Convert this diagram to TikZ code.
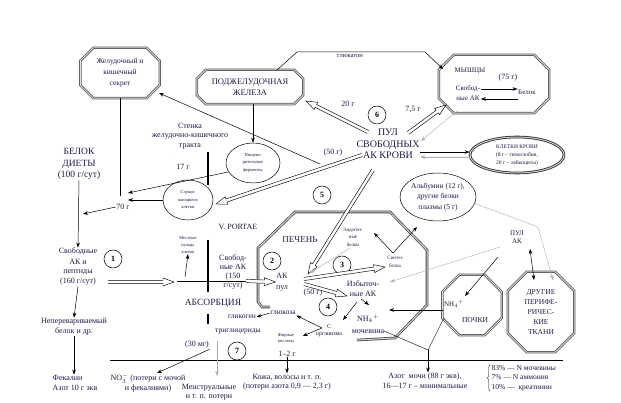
\documentclass[tikz,border=0pt]{standalone}
\usepackage{fontspec}
\setmainfont{Liberation Serif}
\usetikzlibrary{arrows.meta,shapes.geometric,calc,decorations.pathreplacing}

\definecolor{ink}{RGB}{28,26,72}
\newcommand\fsz[2]{\fontsize{#1}{#2}\selectfont}
% open double-lined arrow between two points
\newcommand\hollowarrow[2]{%
  \draw[hollow] let \p1=($(#2)-(#1)$), \n1={atan2(\y1,\x1)}, \n2={veclen(\x1,\y1)} in
    [shift={(#1)}, rotate=\n1]
    (0pt,1.6pt) -- (\n2-11pt,1.6pt) -- (\n2-11pt,4pt) -- (\n2*1pt,0pt)
    -- (\n2-11pt,-4pt) -- (\n2-11pt,-1.6pt) -- (0pt,-1.6pt);}
% octagon round a box node
\newcommand\octo[2]{%
  \draw[organ] ([xshift=#2]#1.north west) -- ([xshift=-#2]#1.north east)
    -- ([yshift=-#2]#1.north east) -- ([yshift=#2]#1.south east)
    -- ([xshift=-#2]#1.south east) -- ([xshift=#2]#1.south west)
    -- ([yshift=#2]#1.south west) -- ([yshift=-#2]#1.north west) -- cycle;}

\tikzset{
  arr/.style={-{Stealth[length=5pt,width=3.6pt]}, line width=0.5pt},
  garr/.style={arr, draw=gray!65, line width=0.4pt},
  hollow/.style={draw=black, fill=white, line width=0.45pt},
  orgbox/.style={rectangle, inner sep=0pt, align=center, text=ink},
  organ/.style={draw=gray!65!black, double=gray!25, double distance=0.9pt, line width=0.75pt, line join=miter},
  liver/.style={draw=gray!55!black, double=gray!30, double distance=1pt, line width=0.8pt},
  lbl/.style={align=center, inner sep=0.5pt, text=ink, font=\fsz{8}{10}},
  num/.style={circle, draw, line width=0.5pt, minimum size=18pt, inner sep=0pt,
    font=\bfseries\fsz{8}{8}},
  oval/.style={ellipse, draw, fill=white, line width=0.5pt, inner sep=0pt, align=center, text=ink},
}

\begin{document}
\begin{tikzpicture}[x=1pt, y=-1pt]
\useasboundingbox (0,0) rectangle (621,403);

% walls and base line
\draw[double, double distance=1.6pt, line width=0.5pt] (168,157) -- (168,360);
\draw[line width=1.3pt] (208,152) -- (208,185) (208,240) -- (208,292) (208,314) -- (208,324);
\draw[line width=0.6pt] (110,360) -- (563,360);

% liver
\draw[liver] (357,340) -- (395,338) -- (427,305) -- (427,250) -- (390,212) -- (295,212)
  -- (258,248) -- (258,302) -- (262,307) -- (270,307);

% organs
\node[orgbox, minimum width=79pt, minimum height=50pt, font=\fsz{7.5}{11}] (sekret) at (120,73) {Желудочный и\\кишечный\\секрет};
\node[orgbox, minimum width=106pt, minimum height=34pt, font=\fsz{8.5}{11}] (pankr) at (250,87) {ПОДЖЕЛУДОЧНАЯ\\ЖЕЛЕЗА};
\node[orgbox, minimum width=110pt, minimum height=58pt] (myshcy) at (494,84) {};
\node[orgbox, minimum width=59pt, minimum height=60pt] (pochki) at (472,305) {};
\node[orgbox, minimum width=66pt, minimum height=80pt, font=\fsz{7.5}{9.8}] (drugie) at (541,312) {ДРУГИЕ\\ПЕРИФЕ-\\РИЧЕС-\\КИЕ\\ТКАНИ};
\octo{sekret}{13pt}
\octo{pankr}{9pt}
\octo{myshcy}{15pt}
\octo{pochki}{17pt}
\octo{drugie}{19pt}

% ovals
\node[oval, minimum width=54pt, minimum height=40pt, font=\fsz{4.5}{7.5}] (fermenty) at (253,163) {Пищева-\\рительные\\ферменты};
\node[oval, minimum width=50pt, minimum height=40pt, font=\fsz{4.5}{7.5}] (slush) at (188,200) {Слущи-\\вающиеся\\клетки};
\node[oval, minimum width=72pt, minimum height=48pt, font=\fsz{7.5}{10.5}] (albumin) at (438,197) {Альбумин (12 г),\\другие белки\\плазмы (5 г)};
\node[oval, minimum width=94pt, minimum height=36pt, draw=black!85, double=gray!35, double distance=1pt, line width=0.8pt, font=\fsz{5.5}{8}] (kletki) at (517,155) {КЛЕТКИ КРОВИ\\(8 г – гемоглобин,\\20 г – лейкоциты)};

% muscles inside
\node[lbl, font=\fsz{7}{8}] (mtitle) at (470,71) {МЫШЦЫ};
\node[lbl] (m75) at (508,78) {(75 г)};
\node[lbl, font=\fsz{7}{10}] (msvob) at (468,93) {Свобод-\\ные АК};
\node[lbl, font=\fsz{7}{9}] (mbelok) at (527,92) {Белок};

% labels
\node[lbl, font=\fsz{10}{11.5}] (pul) at (388,144) {ПУЛ\\СВОБОДНЫХ\\АК КРОВИ};
\node[lbl, font=\fsz{9.5}{11.5}] (belok) at (79,164) {БЕЛОК\\ДИЕТЫ\\(100 г/сут)};
\node[lbl] (svak) at (78,267) {Свободные\\АК и\\пептиды\\(160 г/сут)};
\node[lbl] (neper) at (74,327) {Неперевариваемый\\белок и др.};
\node[lbl, align=left, anchor=west] (fekal) at (52,383) {Фекалии\\Азот 10 г экв};
\node[lbl] (no3) at (148,383) {NO$_3^-$ (потери с мочой\\и фекалиями)};
\node[lbl, font=\fsz{8}{9}] (menstr) at (209,392) {Менструальные\\и т. п. потери};
\node[lbl, font=\fsz{8}{9}] (kozha) at (287,382) {Кожа, волосы и т. п.\\(потери азота 0,9 — 2,3 г)};
\node[lbl] (azot) at (425,381) {Азот \ мочи (88 г экв),\\16—17 г – минимальные};
\node[lbl, align=left, anchor=west, font=\fsz{7.5}{9.5}] (pct) at (491,378) {83\% — N мочевины\\7\% — N аммония\\10\% — \ креатинин};
\draw[decorate, decoration={brace, amplitude=2.5pt}] ([xshift=-1pt]pct.south west) -- ([xshift=-1pt]pct.north west);

\node[lbl, font=\fsz{6.5}{7}] (glukagon) at (350,56) {глюкагон};
\node[lbl, font=\fsz{8}{9.5}] (stenka) at (190,136) {Стенка\\желудочно-кишечного\\тракта};
\node[lbl] (w17) at (183,167) {17 г};
\node[lbl] (w70) at (123,207) {70 г};
\node[lbl] (m20) at (348,104) {20 г};
\node[lbl] (m75g) at (413,109) {7,5 г};
\node[lbl] (p50) at (333,153) {(50 г)};
\node[lbl] (portae) at (238,227) {V. PORTAE};
\node[lbl, font=\fsz{4.5}{7}] (mestn) at (188,245) {Местные\\нужды\\клеток};
\node[lbl, font=\fsz{9.5}{11}] (absorb) at (213,303) {АБСОРБЦИЯ};
\node[lbl, font=\fsz{8}{9.3}] (svak2) at (233,272) {Свобод-\\ные АК\\(150\\г/сут)};
\node[lbl, font=\fsz{9}{10}] (pechen) at (300,240) {ПЕЧЕНЬ};
\node[lbl, font=\fsz{8}{10.5}] (akpul) at (282,282) {АК\\пул};
\node[lbl, font=\fsz{5}{7.5}] (endo) at (353,237) {Эндоген-\\ные\\белки};
\node[lbl, font=\fsz{5}{8}] (sintez) at (395,262) {Синтез\\белка};
\node[lbl] (izb) at (363,289) {Избыточ-\\ные АК};
\node[lbl] (l50) at (313,293) {(50 г)};
\node[lbl, font=\fsz{8}{12}] (nh4) at (368,324) {NH$_4{}^+$\\мочевина};
\node[lbl, font=\fsz{7.5}{9}] (glukoza) at (283,313) {глюкоза};
\node[lbl, font=\fsz{7.5}{9}] (glikogen) at (242,317) {гликоген};
\node[lbl, font=\fsz{6}{7}] (corg) at (329,331) {С\\организма};
\node[lbl, font=\fsz{4.5}{6}] (zhirn) at (286,338) {Жирные\\кислоты};
\node[lbl, font=\fsz{7.5}{9}] (trigl) at (238,332) {триглицериды};
\node[lbl] (m30) at (197,345) {(30 мг)};
\node[lbl] (m12) at (287,354) {1–2 г};
\node[lbl, font=\fsz{7}{8}] (pulak) at (517,237) {ПУЛ\\АК};
\node[lbl, font=\fsz{7.5}{9}] (pochkit) at (475,320) {ПОЧКИ};
\node[lbl, font=\fsz{7}{8}] (nh4k) at (454,304) {NH$_4{}^+$};

% numbered steps
\node[num] (c1) at (113,259) {1};
\node[num] (c2) at (272,261) {2};
\node[num] (c3) at (342,265) {3};
\node[num] (c4) at (328,307) {4};
\node[num] (c5) at (322,195) {5};
\node[num] (c6) at (377,115) {6};
\node[num] (c7) at (237,351) {7};

% free ends
\coordinate (gk0) at (277,70);
\coordinate (gk1) at (297,52);
\coordinate (gk2) at (425,52);
\coordinate (gk3) at (443,69);
\coordinate (j70) at (120,196);
\coordinate (a1) at (128,193);
\coordinate (a2) at (128,200);
\coordinate (d70) at (83,214);
\coordinate (h1a) at (108,282);
\coordinate (h1b) at (174,282);
\coordinate (ab0) at (177,281);
\coordinate (ab1) at (246,281);
\coordinate (ab2) at (185,277);
\coordinate (lp0) at (373,170);
\coordinate (lp1) at (308,274);
\coordinate (p20a) at (368,132);
\coordinate (p20b) at (306,101);
\coordinate (p75a) at (408,133);
\coordinate (p75b) at (446,105);
\coordinate (mg0) at (457,111);
\coordinate (mg1) at (421,141);
\coordinate (p50a) at (362,155);
\coordinate (p50b) at (216,204);
\coordinate (sk0) at (320,164);
\coordinate (sk1) at (159,93);
\coordinate (ak1) at (304,279);
\coordinate (s1) at (385,267);
\coordinate (ak2) at (304,284);
\coordinate (iz0) at (347,296);
\coordinate (si0) at (393,253);
\coordinate (en1) at (374,233);
\coordinate (al1) at (417,227);
\coordinate (en2) at (350,248);
\coordinate (ak3) at (310,273);
\coordinate (iz1) at (357,302);
\coordinate (cv2) at (343,320);
\coordinate (iz2) at (361,299);
\coordinate (nh1) at (369,305);
\coordinate (cv) at (322,328);
\coordinate (pk0) at (443,310);
\coordinate (pk1) at (389,310);
\coordinate (mo0) at (384,331);
\coordinate (pk2) at (444,318);
\coordinate (mz) at (428,350);
\coordinate (pa0) at (498,257);
\coordinate (pa1) at (500,247);
\coordinate (iz3) at (390,282);
\coordinate (ag1) at (538,227);
\coordinate (ag2) at (553,280);
\coordinate (pd0) at (530,249);
\coordinate (pd1) at (534,280);
\coordinate (tr0) at (217,341);
\coordinate (tr1) at (217,376);
\coordinate (nn1) at (157,373);
\coordinate (kn1) at (465,296);

% top connectors
\draw[arr] (gk0) -- (gk1) -- (gk2) -- (gk3);
\draw[arr] (pankr.south -| fermenty.north) -- (fermenty.north);
\draw[arr] (sk0) -- (sk1);
\hollowarrow{p20a}{p20b}
\hollowarrow{p75a}{p75b}
\draw[garr] (mg0) -- (mg1);
\draw[arr] ([yshift=4pt]msvob.east) -- ([yshift=3pt]mbelok.west);
\draw[arr] ([yshift=-7pt]mbelok.west) -- ([yshift=-6pt]msvob.east);
\draw[arr] ([yshift=-8pt]pul.east) -- ([yshift=3pt]kletki.west);
\draw[garr] ([yshift=-2pt]kletki.west) -- ([yshift=-13pt]pul.east);

% gut connectors
\draw (sekret.south) -- (j70);
\draw[arr] (fermenty.200) -- (a1);
\draw[arr] (slush.west) -- (a2);
\draw[arr] (w70.west) -- (d70);
\draw[arr] (belok.south) -- (svak.north);
\draw[arr] (svak.south) -- (neper.north);
\draw[arr] (neper.south) -- (neper.south |- fekal.north);
\hollowarrow{h1a}{h1b}
\draw[line width=0.6pt] (ab0) -- (ab1);
\draw[arr] (ab2) -- (mestn.south);
\hollowarrow{p50a}{p50b}
\draw[arr] (m30.south east) -- (nn1);
\draw[garr] (tr0) -- (tr1);
\draw[arr] (m12.south) -- (kozha.north);

% liver connectors
\hollowarrow{lp0}{lp1}
\hollowarrow{ab1}{akpul.west}
\hollowarrow{ak1}{s1}
\hollowarrow{ak2}{iz0}
\draw[arr] (si0) -- (en1);
\draw[arr] (si0) -- (al1);
\draw[garr] (en2) -- (ak3);
\draw[arr] (iz1) -- (cv2);
\draw[arr] (iz2) -- (nh1);
\draw[arr] (glukoza.west) -- (glikogen.east);
\draw[arr] (cv) -- (glukoza.south east);
\draw[arr] (cv) -- ([xshift=8pt,yshift=2pt]zhirn.east);

% kidneys and periphery
\draw[arr, line width=0.7pt] (pk0) -- (pk1);
\draw (mo0) -- (mz) (pk2) -- (mz);
\draw[arr] (mz) -- (mz |- azot.north);
\draw[arr] (pa0) -- (kn1);
\draw[garr] (pa1) -- (iz3);
\draw[garr] (albumin.-10) -- (ag1) -- (ag2);
\draw[{Stealth[length=5pt,width=3.6pt]}-{Stealth[length=5pt,width=3.6pt]}, line width=0.5pt] (pd0) -- (pd1);
\end{tikzpicture}
\end{document}
